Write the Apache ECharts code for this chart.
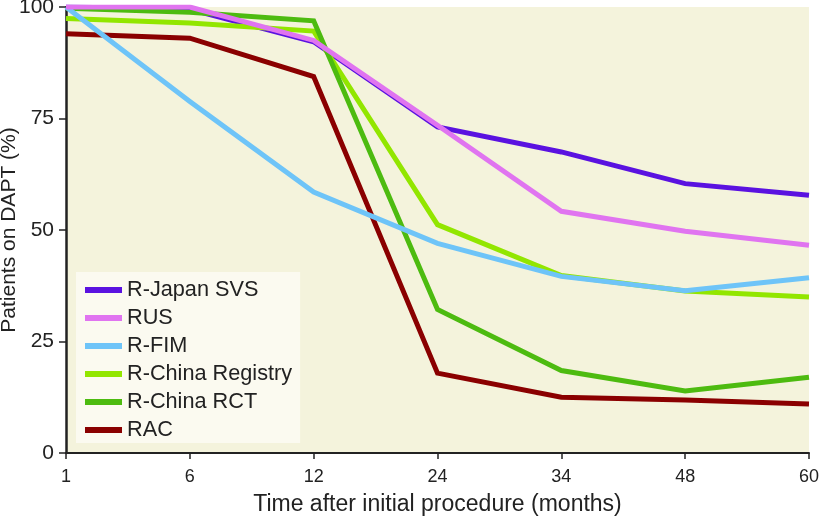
<!DOCTYPE html>
<html><head><meta charset="utf-8">
<script src="https://cdn.jsdelivr.net/npm/echarts@6/dist/echarts.min.js"></script>
<style>html,body{margin:0;padding:0;background:#fff}#c{width:819px;height:516px}</style>
</head><body><div id="c"></div>
<script>
var categories = ['1','6','12','24','34','48','60'];
var rJapanSVS = [100, 99.5, 92.2, 73.1, 67.5, 60.4, 57.8];
var rus = [100, 100, 92.5, 73.5, 54.2, 49.7, 46.6];
var rFIM = [100, 78.8, 58.5, 47, 39.6, 36.4, 39.3];
var rChinaRegistry = [97.4, 96.4, 94.6, 51.2, 39.8, 36.3, 35];
var rChinaRCT = [99.7, 98.8, 96.9, 32.2, 18.5, 13.9, 17];
var rac = [94, 93, 84.4, 17.9, 12.5, 11.9, 11];
var yTicks = [0, 25, 50, 75, 100];

var names = ['R-Japan SVS','RUS','R-FIM','R-China Registry','R-China RCT','RAC'];
var colors = {'R-Japan SVS':'#5A12E0','RUS':'#E074F0','R-FIM':'#6EC4F8','R-China Registry':'#92E600','R-China RCT':'#4DBB10','RAC':'#8A0000'};
var dataMap = {'R-Japan SVS':rJapanSVS,'RUS':rus,'R-FIM':rFIM,'R-China Registry':rChinaRegistry,'R-China RCT':rChinaRCT,'RAC':rac};
var drawOrder = ['R-Japan SVS','R-China Registry','RAC','R-China RCT','R-FIM','RUS'];

var chart = echarts.init(document.getElementById('c'), null, {renderer:'canvas'});
var tickFont = '"Liberation Sans Narrow", "Liberation Sans", sans-serif';
var textFont = '"Liberation Sans", Arial, sans-serif';
chart.setOption({
  animation:false,
  backgroundColor:'#fff',
  color: drawOrder.map(function(n){return colors[n];}),
  grid:{left:66,right:10,top:7,bottom:63,show:true,backgroundColor:'#F4F3DC',borderWidth:0,containLabel:false,outerBoundsMode:'none'},
  legend:{
    data:names, orient:'vertical', left:76, top:272,
    backgroundColor:'#FBFAF0', padding:[7,8,2,9], itemGap:6,
    icon:'rect', itemWidth:37, itemHeight:6,
    textStyle:{fontFamily:textFont, fontSize:21.7, color:'#222'}
  },
  xAxis:{
    type:'category', data:categories, boundaryGap:false,
    name:'Time after initial procedure (months)', nameLocation:'middle', nameGap:40,
    nameTextStyle:{fontFamily:textFont, fontSize:23, color:'#222'},
    axisLine:{lineStyle:{color:'#222',width:2}},
    axisTick:{show:true,alignWithLabel:true,length:6,lineStyle:{color:'#222',width:1.5}},
    axisLabel:{fontFamily:tickFont, fontSize:18, color:'#222', margin:15},
    splitLine:{show:false}
  },
  yAxis:{
    type:'value', min:0, max:100, interval:25,
    name:'Patients on DAPT (%)', nameLocation:'middle', nameGap:46, nameRotate:90, nameMoveOverlap:false,
    nameTextStyle:{fontFamily:textFont, fontSize:21, color:'#222'},
    axisLine:{show:true,lineStyle:{color:'#222',width:2.5}},
    axisTick:{show:true,length:7,lineStyle:{color:'#222',width:1.5}},
    axisLabel:{fontFamily:tickFont, fontSize:21, color:'#222', margin:12},
    splitLine:{show:false}
  },
  series: drawOrder.map(function(n){
    return {name:n, type:'line', data:dataMap[n], symbol:'none', showSymbol:false,
      lineStyle:{width:5,color:colors[n],join:'miter'}, itemStyle:{color:colors[n]}};
  })
});
</script></body></html>
